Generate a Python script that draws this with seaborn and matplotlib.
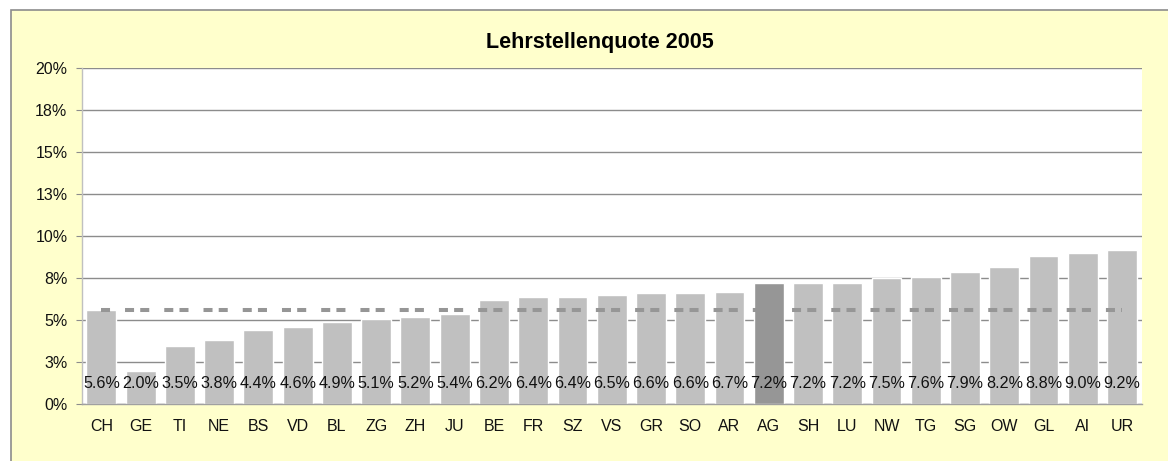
import matplotlib
matplotlib.use("Agg")
import matplotlib.pyplot as plt
import seaborn as sns
import pandas as pd
from matplotlib.patches import Rectangle

cantons = ["CH", "GE", "TI", "NE", "BS", "VD", "BL", "ZG", "ZH", "JU", "BE", "FR", "SZ",
           "VS", "GR", "SO", "AR", "AG", "SH", "LU", "NW", "TG", "SG", "OW", "GL", "AI", "UR"]
quote = [5.6, 2.0, 3.5, 3.8, 4.4, 4.6, 4.9, 5.1, 5.2, 5.4, 6.2, 6.4, 6.4,
         6.5, 6.6, 6.6, 6.7, 7.2, 7.2, 7.2, 7.5, 7.6, 7.9, 8.2, 8.8, 9.0, 9.2]
ch_reference = 5.6
highlight = "AG"
ytick_values = [0, 2.5, 5, 7.5, 10, 12.5, 15, 17.5, 20]
ytick_labels = ["0%", "3%", "5%", "8%", "10%", "13%", "15%", "18%", "20%"]
title = "Lehrstellenquote 2005"

sns.set_theme(style="white")
plt.rcParams["font.family"] = ["Liberation Sans", "DejaVu Sans"]
plt.rcParams["lines.scale_dashes"] = False

df = pd.DataFrame({"canton": cantons, "quote": quote})
palette = {c: ("#969696" if c == highlight else "#C0C0C0") for c in cantons}

W, H = 1168, 461
fig = plt.figure(figsize=(W / 100, H / 100), dpi=100, facecolor="white")
# yellow chart area with gray border (top/left visible)
bg = Rectangle((10.5 / W, -0.5), 2.0, (H - 10.5) / H + 0.5,
               transform=fig.transFigure, facecolor="#FFFFCC",
               edgecolor="#8C8C8C", linewidth=1.2, zorder=-10)
fig.add_artist(bg)

left, right, top, bottom = 81.7, 1141.7, 68.3, 404.3
ax = fig.add_axes([left / W, 1 - bottom / H, (right - left) / W, (bottom - top) / H])
ax.set_zorder(1)
ax.set_facecolor("white")

sns.barplot(data=df, x="canton", y="quote", hue="canton", palette=palette,
            width=0.76, legend=False, ax=ax, zorder=2, saturation=1)

ax.plot([0, len(cantons) - 1], [ch_reference, ch_reference], color="#969696",
        linewidth=2.9, linestyle=(0, (6.5, 10.8, 6.5, 4.45)), zorder=3,
        solid_capstyle="butt", dash_capstyle="butt")

for i, v in enumerate(quote):
    ax.annotate(f"{v:.1f}%", xy=(i, 0), xytext=(0, 14.8), textcoords="offset points",
                ha="center", va="center", fontsize=11.6, color="#111111", zorder=4)

ax.set_ylim(0, 20)
ax.set_xlim(-0.5, len(cantons) - 0.5)
ax.set_yticks(ytick_values)
ax.set_yticklabels(ytick_labels)
ax.yaxis.grid(True, color="#8C8C8C", linewidth=1.0)
ax.set_axisbelow(True)
ax.set_xlabel("")
ax.set_ylabel("")
ax.tick_params(axis="y", length=4.3, width=0.8, color="#8C8C8C", pad=6.0,
               labelsize=11.5, labelcolor="#111111", left=True, direction="out")
ax.tick_params(axis="x", length=0, pad=10.5, labelsize=11.5, labelcolor="#111111")
for s in ["top", "right"]:
    ax.spines[s].set_visible(False)
ax.spines["left"].set_color("#C0C0C0")
ax.spines["left"].set_linewidth(1.0)
ax.spines["bottom"].set_color("#A0A0A0")
ax.spines["bottom"].set_linewidth(1.0)

fig.text(600 / W, 1 - 48 / H, title, ha="center", va="baseline",
         fontsize=15.5, fontweight="bold", color="#000000")

fig.savefig("out.png", dpi=100, facecolor=fig.get_facecolor())
